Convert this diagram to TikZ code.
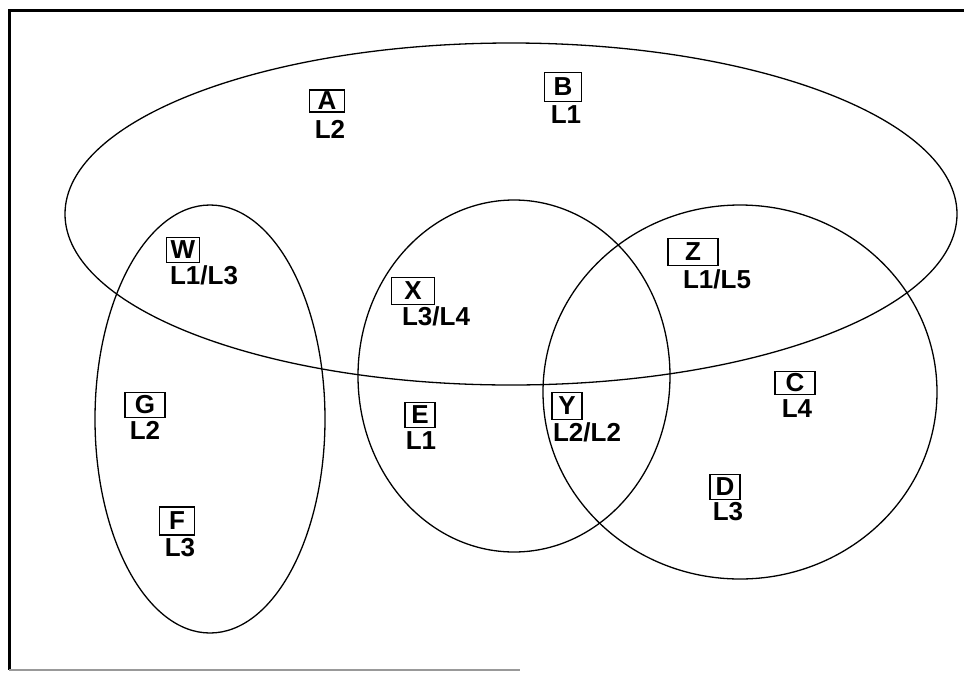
\documentclass[tikz,border=0pt]{standalone}
\usepackage{fontspec}
\setmainfont{Liberation Sans}
\begin{document}
\begin{tikzpicture}[x=1pt,y=-1pt,
  lbox/.style={draw, line width=1.4pt, inner sep=0pt, minimum height=25pt, font=\fontsize{26}{26}\selectfont\bfseries},
  ltxt/.style={inner sep=0pt, font=\fontsize{26}{26}\selectfont\bfseries},
  region/.style={line width=1.3pt}]
\useasboundingbox (0,0) rectangle (964,673);
% frame (open on the right)
\draw[line width=3pt] (964,10) -- (9,10) -- (9,670);
\draw[line width=1.2pt, black!40] (9,670) -- (520,670);
% regions
\draw[region] (511,214) ellipse [x radius=446, y radius=171];
\draw[region] (210,419) ellipse [x radius=115, y radius=214];
\draw[region] (514,376) ellipse [x radius=156, y radius=176];
\draw[region] (740,392) ellipse [x radius=197, y radius=187];
% labels
\node[lbox, minimum width=35pt, minimum height=22pt] (a) at (327,101) {A};
\node[ltxt] (la) at (330,129) {L2};
\node[lbox, minimum width=37pt, minimum height=29pt] (b) at (563,87) {B};
\node[ltxt] (lb) at (566,115) {L1};
\node[lbox, minimum width=33pt] (w) at (183,250) {W};
\node[ltxt] (lw) at (204,275) {L1/L3};
\node[lbox, minimum width=43pt, minimum height=27pt] (x) at (413,291) {X};
\node[ltxt] (lx) at (436,316) {L3/L4};
\node[lbox, minimum width=50pt, minimum height=27pt] (z) at (693,252) {Z};
\node[ltxt] (lz) at (717,279) {L1/L5};
\node[lbox, minimum width=30pt, minimum height=27pt] (y) at (567,406) {Y};
\node[ltxt] (ly) at (587,432) {L2/L2};
\node[lbox, minimum width=40pt] (g) at (145,405) {G};
\node[ltxt] (lg) at (145,430) {L2};
\node[lbox, minimum width=30pt] (e) at (420,415) {E};
\node[ltxt] (le) at (421,441) {L1};
\node[lbox, minimum width=40pt, minimum height=23pt] (c) at (795,383) {C};
\node[ltxt] (lc) at (797,409) {L4};
\node[lbox, minimum width=30pt] (d) at (725,487) {D};
\node[ltxt] (ld) at (728,512) {L3};
\node[lbox, minimum width=35pt, minimum height=28pt] (f) at (177,521) {F};
\node[ltxt] (lf) at (180,548) {L3};
\end{tikzpicture}
\end{document}
